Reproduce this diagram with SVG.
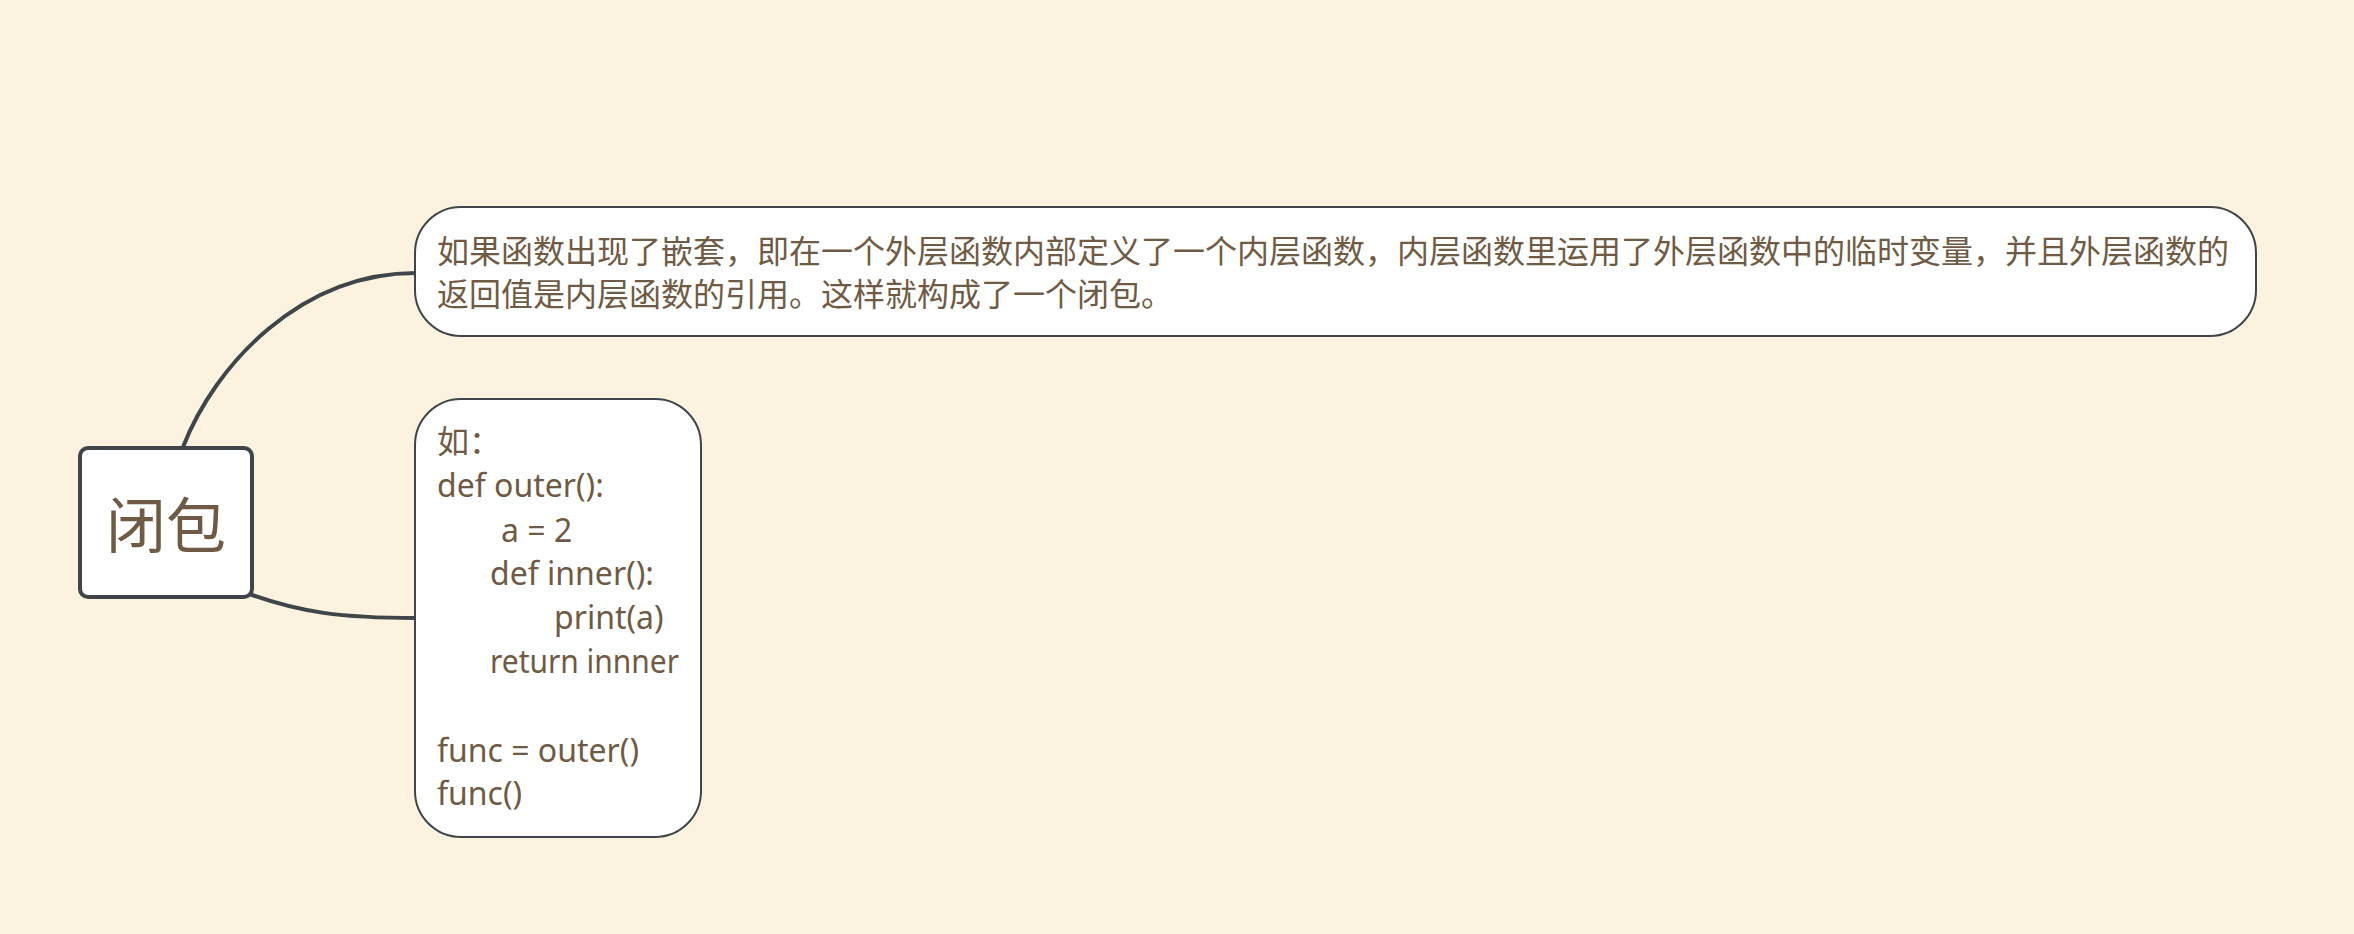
<svg xmlns="http://www.w3.org/2000/svg" width="2354" height="934" viewBox="0 0 2354 934">
<style>
.t{font-family:"Noto Sans","Noto Sans CJK SC",sans-serif;fill:#6f5b45;font-size:32px}
.box{fill:#ffffff;stroke:#3f4549;stroke-width:2}
.conn{fill:none;stroke:#3f4549;stroke-width:4;stroke-linecap:round}
</style>
<rect width="2354" height="934" fill="#fbf3df"/>
<g id="connectors">
<path class="conn" d="M183,447 C215,365 300,273 416,273"/>
<path class="conn" d="M252,595 C300,612 340,618 416,618"/>
</g>
<g id="root">
<rect x="80" y="448" width="172" height="149" rx="8" fill="#ffffff" stroke="#3f4549" stroke-width="4"/>
<text class="t" x="166" y="548" text-anchor="middle" style="font-size:60px">闭包</text>
</g>
<g id="definition">
<rect class="box" x="415" y="207" width="1841" height="129" rx="46"/>
<text class="t" x="437" y="263">如果函数出现了嵌套，即在一个外层函数内部定义了一个内层函数，内层函数里运用了外层函数中的临时变量，并且外层函数的</text>
<text class="t" x="437" y="306">返回值是内层函数的引用。这样就构成了一个闭包。</text>
</g>
<g id="example">
<rect class="box" x="415" y="399" width="286" height="438" rx="46"/>
<text class="t" x="437" y="453">如：</text>
<text class="t" x="437" y="497">def outer():</text>
<text class="t" x="501" y="542">a = 2</text>
<text class="t" x="490" y="585">def inner():</text>
<text class="t" x="554" y="629">print(a)</text>
<text class="t" x="490" y="673" textLength="189" lengthAdjust="spacingAndGlyphs">return innner</text>
<text class="t" x="437" y="762">func = outer()</text>
<text class="t" x="437" y="805">func()</text>
</g>
</svg>
